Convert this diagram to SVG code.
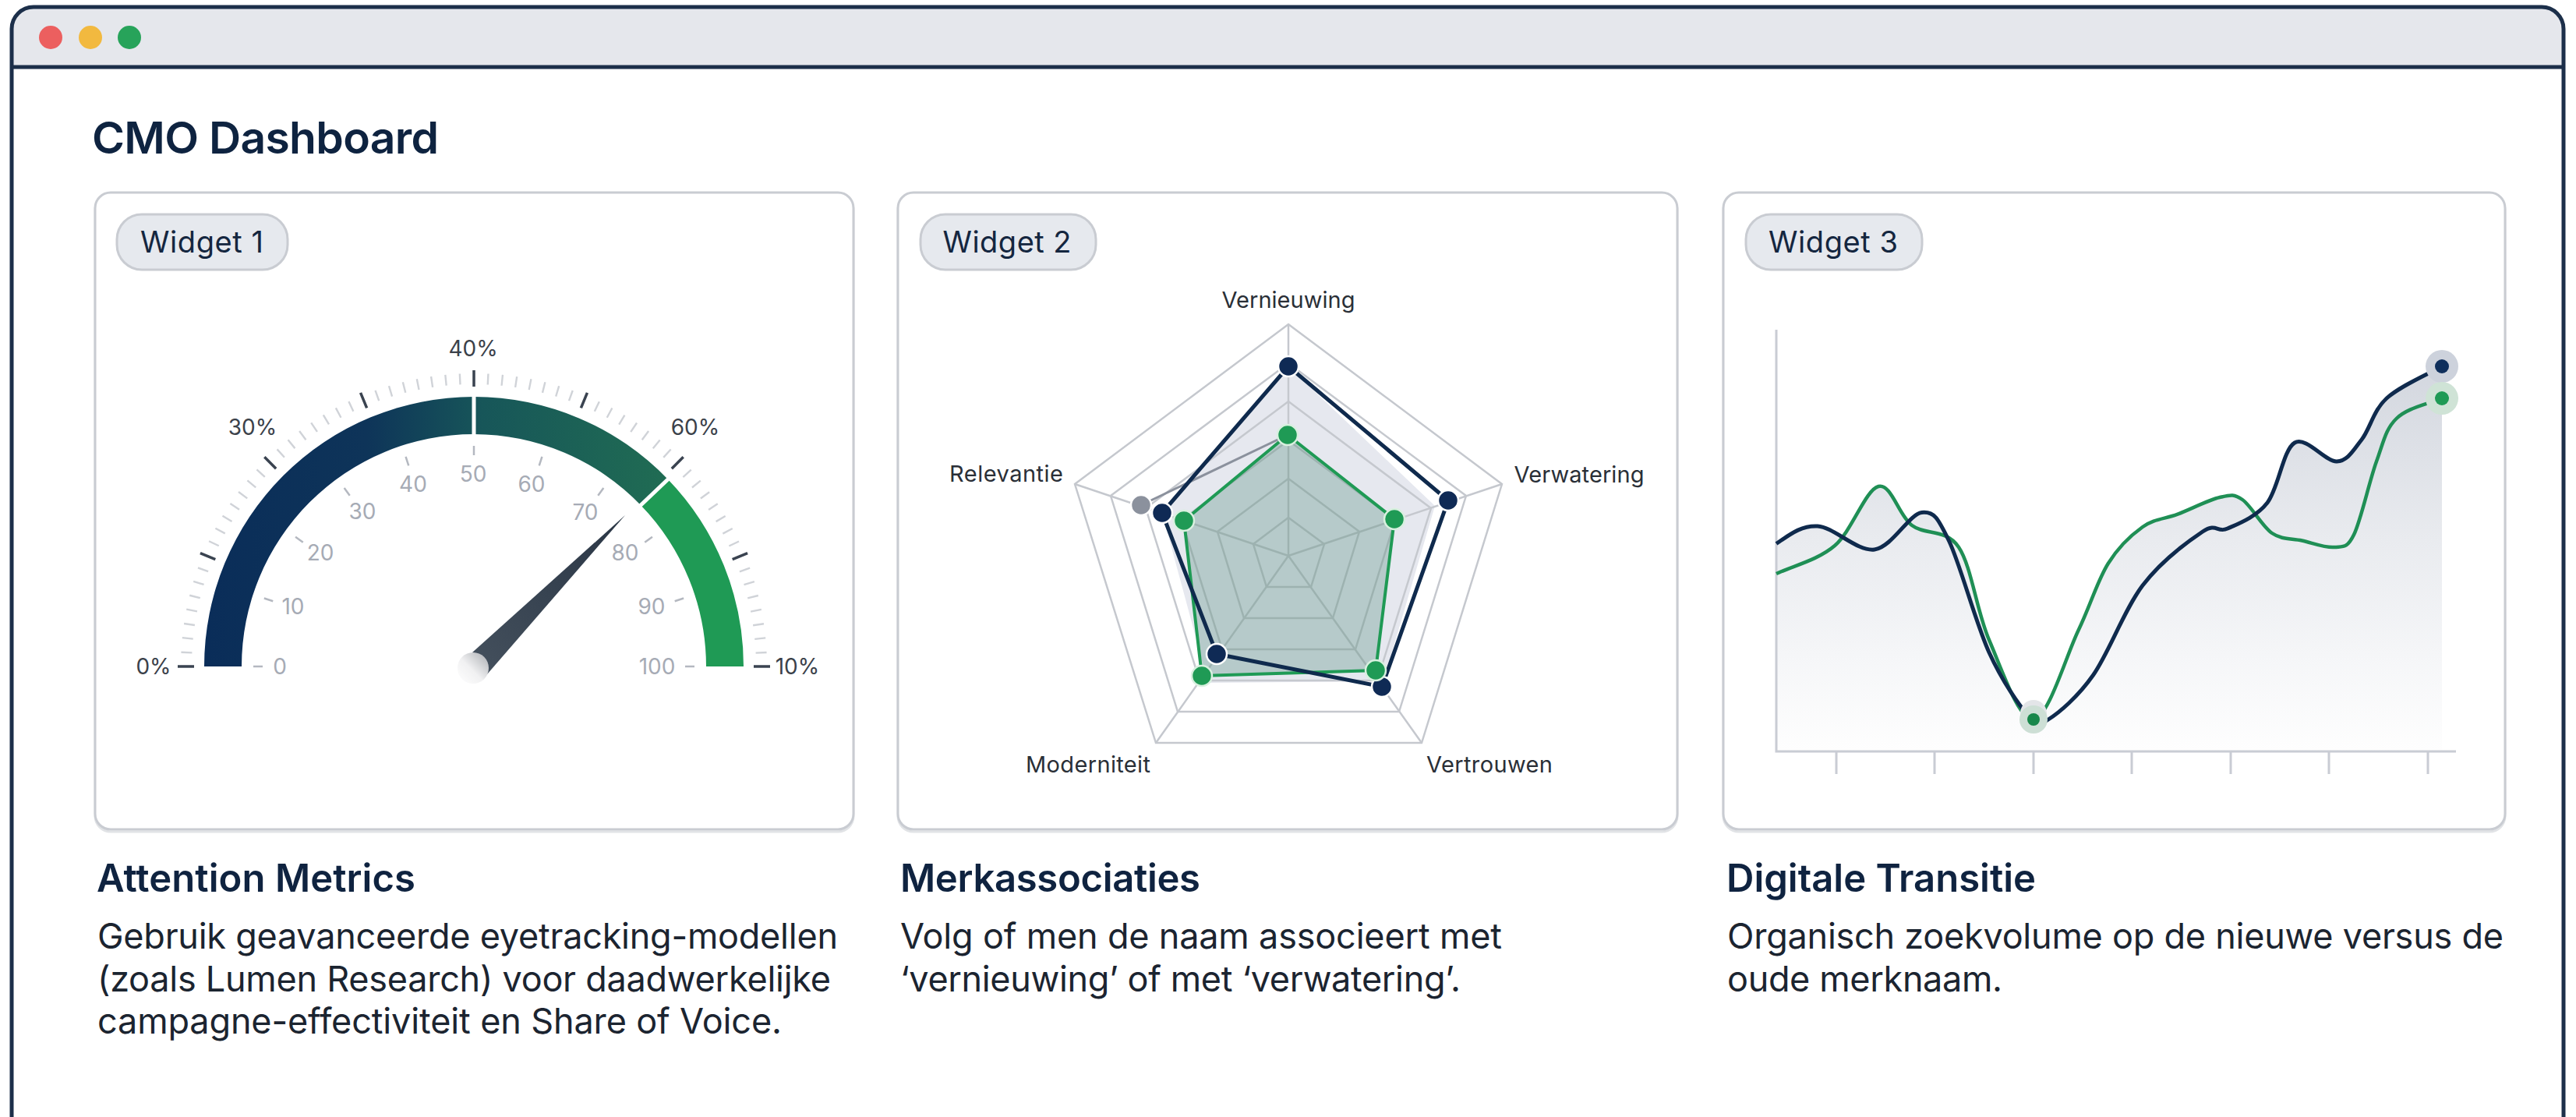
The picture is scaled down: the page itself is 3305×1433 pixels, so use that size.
<svg xmlns="http://www.w3.org/2000/svg" width="3305" height="1433" viewBox="0 0 3305 1433">
<defs>
<style>
text{font-family:Inter,"Liberation Sans",sans-serif}
.card{fill:#fff;stroke:#c9ccd2;stroke-width:3}
.cardshadow{fill:none;stroke:#c9ccd2;stroke-width:3;opacity:.55}
.pill{fill:#e6e9ee;stroke:#c9ccd2;stroke-width:3}
.pilltxt{font-size:38px;fill:#14263f;text-anchor:middle}
.h{font-size:49px;font-weight:600;fill:#0f2340}
.b{font-size:45px;fill:#1b2430}
.o{font-size:28px;fill:#3b414a;text-anchor:middle}
.i{font-size:28px;fill:#a6abb5;text-anchor:middle}
.r{font-size:29px;fill:#2a2f37;text-anchor:middle}
.mj{stroke:#3a4350;stroke-width:3.5}
.in{stroke:#b4b8c0;stroke-width:2.5}
.ring{fill:none;stroke:#c5c8ce;stroke-width:2.5}
.ax{stroke:#c9ccd4;stroke-width:3;fill:none}
.nav{fill:#0f2a55;stroke:#fff;stroke-width:2.5}
.grn{fill:#1f9a55;stroke:#d8f0df;stroke-width:2.5}
</style>
<linearGradient id="arc" gradientUnits="userSpaceOnUse" x1="262" y1="0" x2="857" y2="0">
<stop offset="0" stop-color="#0a2d59"/><stop offset=".35" stop-color="#0e3459"/><stop offset=".6" stop-color="#175659"/><stop offset="1" stop-color="#206c53"/>
</linearGradient>
<linearGradient id="needle" gradientUnits="userSpaceOnUse" x1="802" y1="661" x2="610" y2="850">
<stop offset="0" stop-color="#2a3645"/><stop offset="1" stop-color="#434f5c"/>
</linearGradient>
<linearGradient id="hub" x1="1" y1="0" x2="0" y2="1">
<stop offset="0" stop-color="#a9acb1"/><stop offset=".55" stop-color="#f1f1f2"/><stop offset="1" stop-color="#fff"/>
</linearGradient>
<linearGradient id="area" gradientUnits="userSpaceOnUse" x1="0" y1="470" x2="0" y2="964">
<stop offset="0" stop-color="#d3d7df"/><stop offset=".45" stop-color="#e9ebef"/><stop offset=".75" stop-color="#f5f6f8"/><stop offset="1" stop-color="#fefefe"/>
</linearGradient>
</defs>
<rect width="3305" height="1433" fill="#fff"/>

<g id="window">
<path d="M15,1440V37a28,28 0 0 1 28,-28H3261a28,28 0 0 1 28,28V1440" fill="#fff"/>
<path d="M15,86V37a28,28 0 0 1 28,-28H3261a28,28 0 0 1 28,28V86Z" fill="#e5e7ec"/>
<path d="M15,1440V37a28,28 0 0 1 28,-28H3261a28,28 0 0 1 28,28V1440" fill="none" stroke="#1c2f4a" stroke-width="5"/>
<line x1="15" y1="86" x2="3289" y2="86" stroke="#1c2f4a" stroke-width="5"/>
<circle cx="65" cy="48" r="15" fill="#ec5f5f"/>
<circle cx="116" cy="48" r="15" fill="#f2b93f"/>
<circle cx="166" cy="48" r="15" fill="#27a35a"/>
<text x="118" y="197" font-size="57" font-weight="600" fill="#0e2340" textLength="445">CMO Dashboard</text>
</g>

<g id="widget-1">
<rect class="cardshadow" x="122" y="250" width="973" height="817" rx="20"/>
<rect class="card" x="122" y="247" width="973" height="817" rx="20"/>
<rect class="pill" x="150" y="275" width="219" height="71" rx="32"/>
<text class="pilltxt" x="259" y="324" textLength="158">Widget 1</text>
<path d="M262,855A346,346 0 0 1 608,509V557A298,298 0 0 0 310,855Z" fill="url(#arc)"/>
<path d="M608,509A346,346 0 0 1 857,615L822,648A298,298 0 0 0 608,557Z" fill="url(#arc)"/>
<path d="M857,615A346,346 0 0 1 954,855H906A298,298 0 0 0 822,648Z" fill="#1f9a55"/>
<line x1="608" y1="505" x2="608" y2="561" stroke="#fff" stroke-width="5"/>
<line x1="860" y1="612" x2="819" y2="651" stroke="#fff" stroke-width="5"/>
<path d="M239,855A369,369 0 0 1 977,855" fill="none" stroke="#d0d3d8" stroke-width="14" stroke-dasharray="2.4 15.71" stroke-dashoffset="1.2"/>
<g class="mj">
<line x1="608" y1="475" x2="608" y2="496" transform="rotate(-90 608 855)"/>
<line x1="608" y1="475" x2="608" y2="496" transform="rotate(-67.5 608 855)"/>
<line x1="608" y1="475" x2="608" y2="496" transform="rotate(-45 608 855)"/>
<line x1="608" y1="475" x2="608" y2="496" transform="rotate(-22.5 608 855)"/>
<line x1="608" y1="475" x2="608" y2="496"/>
<line x1="608" y1="475" x2="608" y2="496" transform="rotate(22.5 608 855)"/>
<line x1="608" y1="475" x2="608" y2="496" transform="rotate(45 608 855)"/>
<line x1="608" y1="475" x2="608" y2="496" transform="rotate(67.5 608 855)"/>
<line x1="608" y1="475" x2="608" y2="496" transform="rotate(90 608 855)"/>
</g>
<g class="in">
<line x1="608" y1="572" x2="608" y2="584" transform="rotate(-90 608 855)"/>
<line x1="608" y1="572" x2="608" y2="584" transform="rotate(-72 608 855)"/>
<line x1="608" y1="572" x2="608" y2="584" transform="rotate(-54 608 855)"/>
<line x1="608" y1="572" x2="608" y2="584" transform="rotate(-36 608 855)"/>
<line x1="608" y1="572" x2="608" y2="584" transform="rotate(-18 608 855)"/>
<line x1="608" y1="572" x2="608" y2="584"/>
<line x1="608" y1="572" x2="608" y2="584" transform="rotate(18 608 855)"/>
<line x1="608" y1="572" x2="608" y2="584" transform="rotate(36 608 855)"/>
<line x1="608" y1="572" x2="608" y2="584" transform="rotate(54 608 855)"/>
<line x1="608" y1="572" x2="608" y2="584" transform="rotate(72 608 855)"/>
<line x1="608" y1="572" x2="608" y2="584" transform="rotate(90 608 855)"/>
</g>
<text class="o" x="607" y="457">40%</text>
<text class="o" x="324" y="558">30%</text>
<text class="o" x="892" y="558">60%</text>
<text class="o" x="197" y="865">0%</text>
<text class="o" x="1023" y="865">10%</text>
<text class="i" x="359" y="865">0</text>
<text class="i" x="376" y="788">10</text>
<text class="i" x="411" y="719">20</text>
<text class="i" x="465" y="666">30</text>
<text class="i" x="530" y="631">40</text>
<text class="i" x="607" y="618">50</text>
<text class="i" x="682" y="631">60</text>
<text class="i" x="751" y="667">70</text>
<text class="i" x="802" y="719">80</text>
<text class="i" x="836" y="788">90</text>
<text class="i" x="843" y="865">100</text>
<path d="M802,661L606,837L625,865Z" fill="url(#needle)"/>
<circle cx="607" cy="857" r="20" fill="url(#hub)"/>
</g>

<g id="widget-2">
<rect class="cardshadow" x="1152" y="250" width="1000" height="817" rx="20"/>
<rect class="card" x="1152" y="247" width="1000" height="817" rx="20"/>
<rect class="pill" x="1181" y="275" width="225" height="71" rx="32"/>
<text class="pilltxt" x="1292" y="324" textLength="165">Widget 2</text>
<polygon points="1653,470 1841,649 1775,874 1550,876 1491,658" fill="#e6e8ef"/>
<g class="ring">
<polygon points="1653,416 1927,621 1824,953 1483,953 1379,621"/>
<polygon points="1653,466 1881,636 1795,913 1511,913 1425,636"/>
<polygon points="1653,515 1836,652 1767,873 1539,873 1470,652"/>
<polygon points="1653,565 1790,667 1739,833 1568,833 1516,667"/>
<polygon points="1653,614 1744,682 1710,793 1596,793 1562,682"/>
<polygon points="1653,664 1699,698 1682,753 1625,753 1608,698"/>
<path d="M1653,713L1653,416M1653,713L1927,621M1653,713L1824,953M1653,713L1483,953M1653,713L1379,621"/>
</g>
<polygon points="1652,558 1789,666 1765,860 1542,867 1519,668" fill="#1f6e55" fill-opacity=".24"/>
<polyline points="1464,648 1652,558" fill="none" stroke="#8b919d" stroke-width="3"/>
<polygon points="1652,558 1789,666 1765,860 1542,867 1519,668" fill="none" stroke="#1f9a55" stroke-width="4"/>
<polygon points="1653,470 1858,642 1773,881 1561,839 1491,658" fill="none" stroke="#0f2a4d" stroke-width="5"/>
<circle cx="1464" cy="648" r="13" fill="#8b919d" stroke="#fff" stroke-width="2.5"/>
<circle class="nav" cx="1653" cy="470" r="13"/>
<circle class="nav" cx="1858" cy="642" r="13"/>
<circle class="nav" cx="1773" cy="881" r="13"/>
<circle class="nav" cx="1561" cy="839" r="13"/>
<circle class="nav" cx="1491" cy="658" r="13"/>
<circle class="grn" cx="1652" cy="558" r="13"/>
<circle class="grn" cx="1789" cy="666" r="13"/>
<circle class="grn" cx="1765" cy="860" r="13"/>
<circle class="grn" cx="1542" cy="867" r="13"/>
<circle class="grn" cx="1519" cy="668" r="13"/>
<text class="r" x="1653" y="395" textLength="171">Vernieuwing</text>
<text class="r" x="2026" y="619" textLength="167">Verwatering</text>
<text class="r" x="1291" y="618" textLength="146">Relevantie</text>
<text class="r" x="1396" y="991" textLength="160">Moderniteit</text>
<text class="r" x="1911" y="991" textLength="162">Vertrouwen</text>
</g>

<g id="widget-3">
<rect class="cardshadow" x="2211" y="250" width="1003" height="817" rx="20"/>
<rect class="card" x="2211" y="247" width="1003" height="817" rx="20"/>
<rect class="pill" x="2240" y="275" width="226" height="71" rx="32"/>
<text class="pilltxt" x="2352" y="324" textLength="166">Widget 3</text>
<path fill="url(#area)" d="M2279,964V697.5C2296,686 2311,673.75 2332,675S2382.75,707.9 2405,705S2449.6,659.3 2465.5,657.5S2486.2,664.1 2500.6,694S2534.9,799.5 2552,837S2590.3,904.7 2603,919S2614.2,931.8 2628,923S2665.4,894.7 2685.6,866S2725.6,781.7 2749,751S2807.8,694.2 2826,682S2844.2,684.2 2858,678S2894.7,663.3 2909,645S2929.2,576.8 2944,568S2983.7,592.7 2998,592S3019.3,577.5 3030,564S3044.8,526.7 3062,511S3115,480 3133,470V964Z"/>
<path fill="url(#area)" d="M2279,964V736C2300,726 2332.2,718.7 2354,700S2393.5,628.3 2410,624S2435.8,661 2453,674S2496.5,677.5 2513,702S2536,784.2 2552,821S2590,925 2609,923S2650.4,842.3 2666.4,809S2690.9,745.2 2704.7,723S2734.1,686.6 2749,676S2777.5,665.9 2794,659.6S2834.2,641.1 2848,638S2865.8,633.3 2877,641S2902.3,675.25 2915,684S2940.1,690.5 2953.4,693.5S2983.9,703.25 2995,702S3011,704.3 3020,686S3039.9,616.8 3049,592S3060.6,550.5 3074.6,537S3110,520 3133,511V964Z"/>
<path class="ax" d="M2279,423V964H3151M2356,964V993M2482,964V993M2609,964V993M2735,964V993M2862,964V993M2988,964V993M3115,964V993"/>
<path fill="none" stroke="#1f8f55" stroke-width="4.5" d="M2279,736C2300,726 2332.2,718.7 2354,700S2393.5,628.3 2410,624S2435.8,661 2453,674S2496.5,677.5 2513,702S2536,784.2 2552,821S2590,925 2609,923S2650.4,842.3 2666.4,809S2690.9,745.2 2704.7,723S2734.1,686.6 2749,676S2777.5,665.9 2794,659.6S2834.2,641.1 2848,638S2865.8,633.3 2877,641S2902.3,675.25 2915,684S2940.1,690.5 2953.4,693.5S2983.9,703.25 2995,702S3011,704.3 3020,686S3039.9,616.8 3049,592S3060.6,550.5 3074.6,537S3110,520 3133,511"/>
<path fill="none" stroke="#0f2a4d" stroke-width="5" d="M2279,697.5C2296,686 2311,673.75 2332,675S2382.75,707.9 2405,705S2449.6,659.3 2465.5,657.5S2486.2,664.1 2500.6,694S2534.9,799.5 2552,837S2590.3,904.7 2603,919S2614.2,931.8 2628,923S2665.4,894.7 2685.6,866S2725.6,781.7 2749,751S2807.8,694.2 2826,682S2844.2,684.2 2858,678S2894.7,663.3 2909,645S2929.2,576.8 2944,568S2983.7,592.7 2998,592S3019.3,577.5 3030,564S3044.8,526.7 3062,511S3115,480 3133,470"/>
<circle cx="3133" cy="470" r="21" fill="#cdd2dc"/>
<circle cx="3133" cy="470" r="9" fill="#0f2f5c"/>
<circle cx="3133" cy="511" r="21" fill="#cfe3d6"/>
<circle cx="3133" cy="511" r="9" fill="#1f9a55"/>
<circle cx="2609" cy="915" r="17" fill="#e3e5e8"/>
<circle cx="2609" cy="923" r="18" fill="#cddfd5"/>
<circle cx="2609" cy="923" r="8" fill="#17874a"/>
</g>

<g id="captions">
<text class="h" x="124" y="1144" textLength="409">Attention Metrics</text>
<text class="b" x="125" y="1217" textLength="950">Gebruik geavanceerde eyetracking-modellen</text>
<text class="b" x="125" y="1272" textLength="941">(zoals Lumen Research) voor daadwerkelijke</text>
<text class="b" x="125" y="1326" textLength="878">campagne-effectiviteit en Share of Voice.</text>
<text class="h" x="1155" y="1144" textLength="385">Merkassociaties</text>
<text class="b" x="1155" y="1217" textLength="772">Volg of men de naam associeert met</text>
<text class="b" x="1155" y="1272" textLength="719">‘vernieuwing’ of met ‘verwatering’.</text>
<text class="h" x="2215" y="1144" textLength="397">Digitale Transitie</text>
<text class="b" x="2216" y="1217" textLength="996">Organisch zoekvolume op de nieuwe versus de</text>
<text class="b" x="2216" y="1272" textLength="353">oude merknaam.</text>
</g>
</svg>
